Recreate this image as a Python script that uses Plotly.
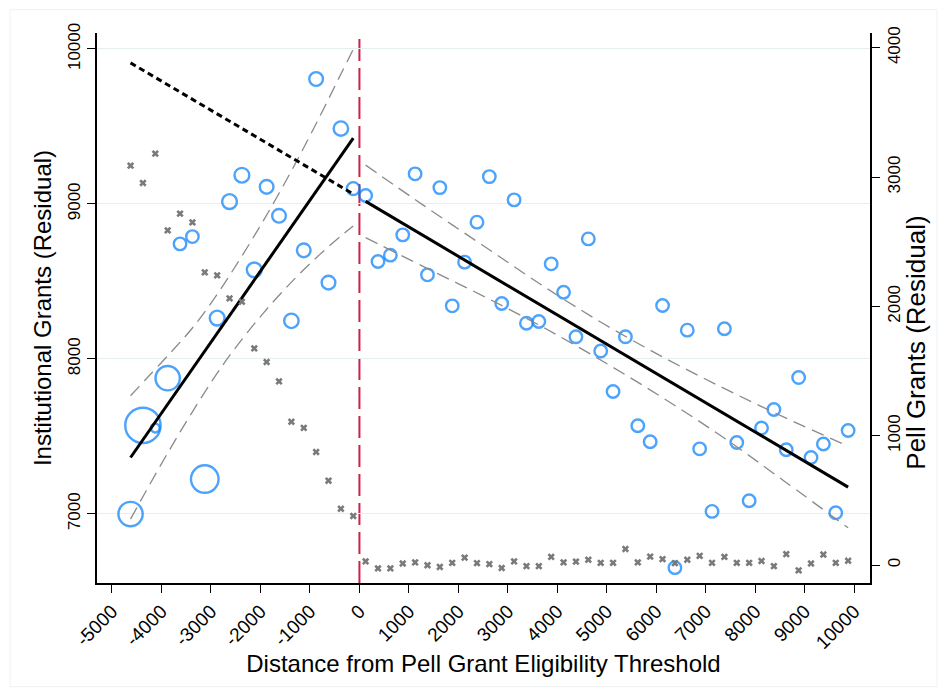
import plotly.graph_objects as go
import numpy as np

# ---------------- data ----------------
# bin centers (distance from Pell Grant eligibility threshold)
bins_left = [-4625, -4375, -4125, -3875, -3625, -3375, -3125, -2875, -2625, -2375,
             -2125, -1875, -1625, -1375, -1125, -875, -625, -375, -125]
bins_right = [125, 375, 625, 875, 1125, 1375, 1625, 1875, 2125, 2375,
              2625, 2875, 3125, 3375, 3625, 3875, 4125, 4375, 4625, 4875,
              5125, 5375, 5625, 5875, 6125, 6375, 6625, 6875, 7125, 7375,
              7625, 7875, 8125, 8375, 8625, 8875, 9125, 9375, 9625, 9875]

# institutional grants (residual), left axis
inst_left = [6998, 7570, 7553, 7875, 8742, 8789, 7224, 8263, 9015, 9185,
             8574, 9110, 8923, 8245, 8700, 9806, 8492, 9486, 9099]
inst_right = [9054, 8628, 8669, 8800, 9194, 8542, 9105, 8342, 8624, 8882,
              9176, 8357, 9026, 8230, 8241, 8613, 8430, 8142, 8774, 8050,
              7789, 8142, 7568, 7465, 8344, 6652, 8185, 7419, 7015, 8194,
              7460, 7084, 7553, 7673, 7413, 7879, 7363, 7450, 7006, 7537]

# relative bin weights (number of observations, relative)
w_left = [3.78, 8.0, 0.5, 3.78, 1.0, 1.0, 4.86, 1.4, 1.4, 1.4,
          1.4, 1.2, 1.2, 1.34, 1.2, 1.2, 1.2, 1.34, 1.05]
w_right = [1.0] * 40

# Pell grants (residual), right axis
pell_left = [3088, 2954, 3181, 2588, 2717, 2650, 2263, 2240, 2062, 2036,
             1675, 1570, 1420, 1108, 1060, 874, 652, 435, 379]
pell_right = [28, -26, -26, 12, 20, -2, -15, 17, 57, 15,
              7, -23, 28, -9, -9, 63, 20, 26, 41, 17,
              17, 124, 20, 65, 46, 15, 41, 71, 17, 63,
              17, 17, 31, -9, 84, -41, 12, 81, 17, 33]

# linear fits
fit_left_x = [-4625, -125]
fit_left_y = [7363, 9425]
fit_right_x = [125, 9875]
fit_right_y = [9016, 7172]
# right-side fit extrapolated below the threshold
extrap_x = [-4625, -125]
extrap_y = [9910, 9064]

# confidence bands
ci_left_x = [-4625, -4325, -3825, -3375, -2925, -2550, -1950, -1325, -800, -375, -125]
ci_left_hi = [7762, 7865, 8037, 8199, 8393, 8575, 8887, 9242, 9565, 9838, 9997]
ci_left_lo = [6965, 7139, 7419, 7658, 7883, 8052, 8292, 8511, 8674, 8793, 8858]
ci_right_x = [125, 1325, 2550, 3750, 4950, 6175, 7400, 8600, 9875]
ci_right_hi = [9250, 8984, 8720, 8462, 8223, 8004, 7804, 7620, 7436]
ci_right_lo = [8782, 8590, 8397, 8197, 7978, 7739, 7482, 7207, 6909]

threshold = 0
x_ticks = [-5000, -4000, -3000, -2000, -1000, 0, 1000, 2000, 3000, 4000,
           5000, 6000, 7000, 8000, 9000, 10000]
x_ticklabels = ["-5000", "-4000", "-3000", "-2000", "-1000", "0", "1000", "2000",
                "3000", "4000", "5000", "6000", "7000", "8000", "9000", "10000"]
y_ticks = [7000, 8000, 9000, 10000]
y2_ticks = [0, 1000, 2000, 3000, 4000]

# ---------------- styles ----------------
BLUE = "rgb(0,124,250)"
GRAY_X = "#7a7a7a"
CI_COLOR = "#8a8a8a"
RED = "#CC1F4A"
FONT = "Liberation Sans, Arial, sans-serif"
BASE_SIZE = 12.5

fig = go.Figure()

# Pell grants markers (right axis)
fig.add_trace(go.Scatter(
    x=bins_left + bins_right, y=pell_left + pell_right, yaxis="y2",
    mode="markers", marker=dict(symbol="x", size=6.5, color=GRAY_X,
                                line=dict(width=0)),
    showlegend=False, hoverinfo="skip"))

# Institutional grants circles
all_w = np.array(w_left + w_right)
fig.add_trace(go.Scatter(
    x=bins_left + bins_right, y=inst_left + inst_right,
    mode="markers",
    marker=dict(symbol="circle-open", size=BASE_SIZE * np.sqrt(all_w),
                color=BLUE, line=dict(width=2.4, color=BLUE)),
    showlegend=False))

# confidence bands
for xs, ys in [(ci_left_x, ci_left_hi), (ci_left_x, ci_left_lo),
               (ci_right_x, ci_right_hi), (ci_right_x, ci_right_lo)]:
    fig.add_trace(go.Scatter(
        x=xs, y=ys, mode="lines",
        line=dict(color=CI_COLOR, width=1.3, dash="13px,7px", shape="spline",
                  smoothing=1.0),
        showlegend=False, hoverinfo="skip"))

# fit lines
for xs, ys in [(fit_left_x, fit_left_y), (fit_right_x, fit_right_y)]:
    fig.add_trace(go.Scatter(
        x=xs, y=ys, mode="lines", line=dict(color="black", width=3),
        showlegend=False, hoverinfo="skip"))

fig.add_trace(go.Scatter(
    x=extrap_x, y=extrap_y, mode="lines",
    line=dict(color="black", width=3, dash="6px,4px"),
    showlegend=False, hoverinfo="skip"))

# threshold line
fig.add_shape(type="line", xref="x", yref="paper",
              x0=threshold, x1=threshold, y0=0, y1=0.993,
              line=dict(color=RED, width=2, dash="22px,7px"), layer="below")

# faint outer frame
fig.add_shape(type="rect", xref="paper", yref="paper",
              x0=(10 - 97) / 773, x1=(937 - 97) / 773,
              y0=(583.3 - 687) / 550, y1=(583.3 - 10) / 550,
              line=dict(color="#eef1f3", width=1), layer="below")

# right axis title
fig.add_annotation(text="Pell Grants (Residual)", xref="paper", yref="paper",
                   x=(916 - 97) / 773, y=(583.3 - 343) / 550,
                   xanchor="center", yanchor="middle", textangle=-90,
                   showarrow=False, font=dict(size=26, color="black"))

fig.update_layout(
    width=947, height=696,
    margin=dict(l=97, r=77, t=33, b=113, autoexpand=False),
    paper_bgcolor="white", plot_bgcolor="white",
    font=dict(family=FONT, color="black", size=17),
    showlegend=False,
    xaxis=dict(
        range=[-5303, 10317], tickmode="array", tickvals=x_ticks,
        ticktext=x_ticklabels, tickangle=-45, ticks="outside", ticklen=8,
        tickwidth=1.3, tickcolor="black", showline=True, linecolor="black",
        linewidth=1.5, showgrid=False, zeroline=False,
        tickfont=dict(size=19),
        title=dict(text="Distance from Pell Grant Eligibility Threshold",
                   font=dict(size=24), standoff=1)),
    yaxis=dict(
        range=[6553, 10103], tickmode="array", tickvals=y_ticks,
        ticktext=[str(v) for v in y_ticks], tickangle=-90,
        ticks="outside", ticklen=8, tickwidth=1.3, tickcolor="black",
        showline=True, linecolor="black", linewidth=1.5,
        showgrid=True, gridcolor="#e6eef0", gridwidth=1.3, zeroline=False,
        tickfont=dict(size=17),
        title=dict(text="Institutional Grants (Residual)",
                   font=dict(size=24), standoff=7)),
    yaxis2=dict(
        range=[-139, 4114], overlaying="y", side="right", tickmode="array",
        tickvals=y2_ticks, ticktext=[str(v) for v in y2_ticks], tickangle=-90,
        ticks="outside", ticklen=8, tickwidth=1.3, tickcolor="black",
        showline=True, linecolor="black", linewidth=1.5,
        showgrid=False, zeroline=False, tickfont=dict(size=17)),
)

fig.write_html("out.html")
